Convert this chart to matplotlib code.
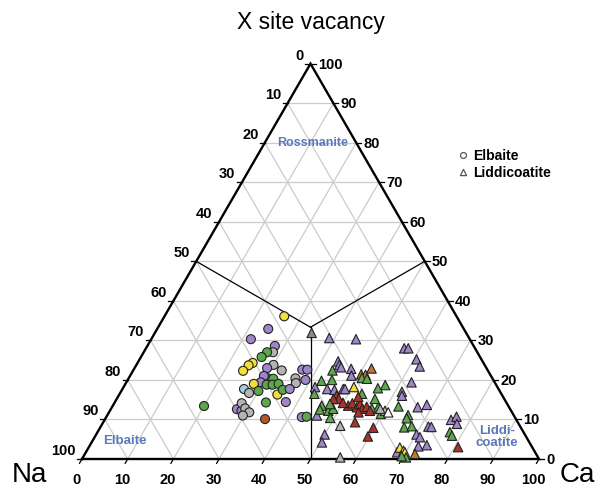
"""
Ternary X-site diagram (Na - Ca - X-site vacancy) for tourmaline analyses.
Elbaite shown as circles, liddicoatite as triangles.
"""
import numpy as np
import matplotlib
matplotlib.use("Agg")
import matplotlib.pyplot as plt

plt.rcParams["font.family"] = ["Liberation Sans", "DejaVu Sans"]

SQ3 = np.sqrt(3) / 2

# colour codes used below
palette = {
    "pu": "#9e86c9",
    "gr": "#5ea84c",
    "gy": "#b4b4b4",
    "ye": "#f1df3c",
    "lb": "#9ecfe0",
    "br": "#b5572b",
    "rd": "#a8342c",
    "or": "#c7742e",
    "wh": "#ffffff",
    "dg": "#8a8a8a",
}

# Elbaite analyses: Ca % and X-site vacancy % (Na = 100 - Ca - vac)
elb_ca = [26.2, 24.3, 21.8, 27.9, 28.3, 27.0, 26.4, 25.2, 24.6, 24.1,
          30.0, 32.5, 29.0, 36.9, 38.0, 38.9, 36.5, 37.2, 30.4, 31.7,
          29.3, 29.4, 28.1, 31.0, 32.3, 33.5, 26.6, 28.2, 30.0, 34.6,
          35.2, 36.6, 37.4, 33.1, 20.0, 27.6, 28.8, 27.9, 29.3, 30.7,
          29.7, 35.0, 42.8, 43.8]
elb_vac = [36.1, 32.9, 30.3, 28.6, 27.0, 27.0, 25.8, 24.3, 23.7, 22.3,
           23.8, 22.4, 23.0, 22.6, 22.6, 20.0, 20.4, 19.2, 20.4, 20.3,
           21.0, 19.4, 19.0, 18.8, 18.8, 19.0, 17.7, 16.7, 17.2, 16.3,
           17.5, 17.7, 14.4, 14.3, 13.4, 12.6, 12.2, 14.1, 12.8, 11.8,
           11.0, 10.1, 10.6, 10.7]
elb_col = ["ye", "pu", "pu", "pu", "gy", "gr", "gr", "ye", "ye", "ye",
           "gy", "gy", "pu", "pu", "pu", "pu", "gy", "gy", "gr", "gr",
           "pu", "pu", "ye", "gr", "gr", "gr", "lb", "gy", "gr", "ye",
           "gr", "pu", "pu", "gr", "gr", "pu", "pu", "gy", "gy", "gy",
           "gy", "br", "pu", "gr"]

# Liddicoatite analyses
lid_ca = [34.3, 38.8, 44.8, 56.5, 57.4, 60.6, 62.2, 43.7, 44.4, 43.6,
          45.1, 47.5, 48.4, 51.9, 50.4, 51.4, 51.0, 52.2, 62.4, 42.5,
          44.7, 41.9, 44.8, 46.5, 50.4, 57.0, 55.8, 48.3, 42.6, 47.7,
          48.6, 53.0, 61.5, 62.0, 51.5, 52.1, 53.6, 53.9, 55.0, 55.7,
          50.0, 52.6, 57.1, 58.3, 59.7, 60.2, 61.1, 62.6, 66.9, 68.6,
          65.8, 65.9, 45.9, 45.7, 47.8, 49.1, 75.8, 76.6, 77.6, 52.3,
          55.1, 66.5, 68.0, 70.1, 71.2, 71.7, 72.4, 77.1, 78.0, 59.8,
          50.0, 50.4, 59.7, 73.7, 72.0, 68.1, 68.1, 69.3, 69.8, 70.7,
          69.6, 72.2, 80.8, 56.3, 54.6, 56.9, 56.5, 45.8, 48.6, 47.4,
          48.7, 58.9, 47.3]
lid_vac = [31.9, 30.6, 30.3, 28.0, 28.0, 25.2, 23.4, 24.7, 23.8, 22.4,
           23.2, 22.8, 21.1, 22.9, 21.4, 21.3, 20.5, 20.3, 19.4, 19.8,
           20.0, 18.2, 17.7, 17.5, 18.2, 18.7, 17.9, 17.7, 16.5, 16.0,
           15.2, 16.5, 17.0, 16.0, 13.5, 14.1, 13.1, 13.9, 12.7, 13.2,
           14.2, 15.7, 12.7, 13.1, 11.4, 12.2, 11.8, 13.3, 13.1, 13.7,
           11.1, 10.3, 11.0, 13.5, 12.2, 10.4, 9.9, 10.7, 8.9, 8.4,
           9.3, 8.0, 8.3, 6.2, 5.5, 8.2, 8.1, 6.8, 5.9, 7.9,
           6.2, 4.2, 5.7, 3.5, 3.2, 1.7, 2.9, 2.1, 1.7, 0.4,
           0.7, 1.3, 3.0, 0.4, 11.8, 12.2, 15.2, 12.5, 12.7, 15.2,
           17.7, 12.7, 13.9]
lid_col = ["dg", "pu", "pu", "pu", "pu", "pu", "pu", "pu", "pu", "gr",
           "pu", "pu", "pu", "or", "or", "or", "gr", "gr", "pu", "gr",
           "gr", "pu", "pu", "pu", "ye", "gr", "gr", "pu", "gr", "rd",
           "rd", "gr", "pu", "pu", "rd", "rd", "rd", "rd", "rd", "rd",
           "rd", "rd", "gr", "gr", "gr", "gy", "wh", "gr", "pu", "pu",
           "gr", "gr", "pu", "gr", "gr", "gr", "pu", "pu", "pu", "gy",
           "rd", "gr", "gr", "pu", "pu", "pu", "pu", "gr", "gr", "rd",
           "pu", "pu", "rd", "pu", "pu", "pu", "ye", "ye", "ye", "gr",
           "gr", "or", "rd", "gy", "rd", "rd", "gr", "gr", "gr", "rd",
           "pu", "gy", "gr"]

ticks = list(range(0, 101, 10))


def to_xy(ca, vac):
    ca = np.asarray(ca, dtype=float)
    vac = np.asarray(vac, dtype=float)
    return ca + vac / 2.0, vac * SQ3


def draw_frame(ax):
    # light grid, 10 % steps in all three directions
    for v in range(10, 100, 10):
        x0, y0 = to_xy(0, v)
        x1, y1 = to_xy(100 - v, v)
        ax.plot([x0, x1], [y0, y1], color="#cbcbcb", lw=0.9, zorder=1)
        # constant Ca
        x0, y0 = to_xy(v, 0)
        x1, y1 = to_xy(v, 100 - v)
        ax.plot([x0, x1], [y0, y1], color="#cbcbcb", lw=0.9, zorder=1)
        # constant Na
        x0, y0 = to_xy(100 - v, 0)
        x1, y1 = to_xy(0, 100 - v)
        ax.plot([x0, x1], [y0, y1], color="#cbcbcb", lw=0.9, zorder=1)

    corners_x, corners_y = to_xy([0, 100, 0, 0], [0, 0, 100, 0])
    ax.plot(corners_x, corners_y, color="black", lw=1.7, zorder=3,
            solid_joinstyle="miter")

    # dominance fields meet at the centroid
    cx, cy = to_xy(100 / 3, 100 / 3)
    for ca, vac in [(0, 50), (50, 50), (50, 0)]:
        mx, my = to_xy(ca, vac)
        ax.plot([mx, cx], [my, cy], color="black", lw=0.9, zorder=2)

    tl = 1.1
    fs = 10.5
    for t in ticks:
        # left side: Na %
        x, y = to_xy(0, 100 - t)
        ax.plot([x, x - tl], [y, y], color="black", lw=0.9, zorder=3)
        ax.text(x - 1.4, y + 2.0, str(t), ha="right", va="center",
                fontsize=fs, fontweight="bold")
        # bottom: Ca %
        x, y = to_xy(t, 0)
        ax.plot([x, x - tl * 0.5], [y, y - tl * SQ3], color="black", lw=0.9, zorder=3)
        ax.text(x - 1.2, -4.3, str(t), ha="center", va="center",
                fontsize=fs, fontweight="bold")
        # right side: vacancy %
        x, y = to_xy(100 - t, t)
        ax.plot([x, x + tl], [y, y], color="black", lw=0.9, zorder=3)
        ax.text(x + 1.6, y, str(t), ha="left", va="center",
                fontsize=fs, fontweight="bold")


def main():
    fig = plt.figure(figsize=(6.05, 4.89), dpi=100)
    ax = fig.add_axes([0, 0, 1, 1])
    ax.set_xlim(-82 / 4.57, (605 - 82) / 4.57)
    ax.set_ylim(-29 / 4.565, 460 / 4.565)
    ax.axis("off")

    draw_frame(ax)

    ex, ey = to_xy(elb_ca, elb_vac)
    ax.scatter(ex, ey, s=42, marker="o", c=[palette[k] for k in elb_col],
               edgecolors="#222222", linewidths=0.8, zorder=4)
    lx, ly = to_xy(lid_ca, lid_vac)
    ax.scatter(lx, ly, s=46, marker="^", c=[palette[k] for k in lid_col],
               edgecolors="#222222", linewidths=0.8, zorder=5)

    blue = "#5b78b8"
    ax.text(50.5, 69.4, "Rossmanite", color=blue, fontsize=9, fontweight="bold",
            ha="center", va="center")
    ax.text(9.4, 4.2, "Elbaite", color=blue, fontsize=9.5, fontweight="bold",
            ha="center", va="center")
    ax.text(90.8, 5.0, "Liddi-\ncoatite", color=blue, fontsize=9.5, fontweight="bold",
            ha="center", va="center", linespacing=1.0)

    ax.text(50, 95.9, "X site vacancy", fontsize=16.5, ha="center", va="center")
    ax.text(-11.4, -3.3, "Na", fontsize=20, ha="center", va="center")
    ax.text(108.4, -3.3, "Ca", fontsize=20, ha="center", va="center")

    # legend
    ax.scatter([83.4], [66.6], s=18, marker="o", facecolors="white",
               edgecolors="#555555", linewidths=0.9, zorder=4)
    ax.scatter([83.4], [62.9], s=20, marker="^", facecolors="white",
               edgecolors="#555555", linewidths=0.9, zorder=4)
    ax.text(85.5, 66.6, "Elbaite", fontsize=10, fontweight="bold",
            ha="left", va="center")
    ax.text(85.5, 62.9, "Liddicoatite", fontsize=10, fontweight="bold",
            ha="left", va="center")

    fig.savefig("out.png", dpi=100)
    plt.close(fig)


if __name__ == "__main__":
    main()
